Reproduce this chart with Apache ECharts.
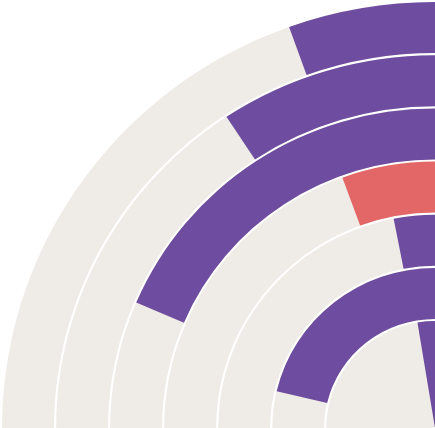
<!DOCTYPE html>
<html>
<head>
<meta charset="utf-8">
<script src="https://cdn.jsdelivr.net/npm/echarts@6/dist/echarts.min.js"></script>
<style>
  html, body { margin: 0; padding: 0; background: #ffffff; overflow: hidden; }
  #main { width: 428px; height: 428px; transform: scaleX(1.0164); transform-origin: 0 0; }
</style>
</head>
<body>
<div id="main"></div>
<script>
// Data (innermost ring first); values are angular extents in degrees of a full 360° scale
const categories = ['A', 'B', 'C', 'D', 'E', 'F', 'G'];
const values = [9.3, 76.7, 11.0, 20.0, 66.9, 33.4, 19.7];
const angleMax = 360;

// Styles
const purple = '#6e4c9f';
const red = '#e36767';
const trackColor = '#efebe7';
const highlighted = 'D';

const chart = echarts.init(document.getElementById('main'), null, { renderer: 'svg' });

function itemData(cats, vals) {
  return vals.map((v, i) => ({
    value: v,
    itemStyle: { color: cats[i] === highlighted ? red : purple }
  }));
}

const innerCats = categories.slice(0, 1);
const innerVals = values.slice(0, 1);
const outerCats = categories.slice(1);
const outerVals = values.slice(1);

const hiddenAxis = {
  axisLine: { show: false }, axisTick: { show: false },
  axisLabel: { show: false }, splitLine: { show: false }
};

chart.setOption({
  animation: false,
  backgroundColor: '#ffffff',
  polar: [
    { center: ['100%', '100%'], radius: [0, 108] },
    { center: ['100%', '100%'], radius: [108, 427] }
  ],
  angleAxis: [
    Object.assign({ polarIndex: 0, type: 'value', min: 0, max: angleMax, startAngle: 90, clockwise: false }, hiddenAxis),
    Object.assign({ polarIndex: 1, type: 'value', min: 0, max: angleMax, startAngle: 90, clockwise: false }, hiddenAxis)
  ],
  radiusAxis: [
    Object.assign({ polarIndex: 0, type: 'category', data: innerCats }, hiddenAxis),
    Object.assign({ polarIndex: 1, type: 'category', data: outerCats }, hiddenAxis)
  ],
  series: [
    {
      type: 'bar', coordinateSystem: 'polar', polarIndex: 0,
      data: itemData(innerCats, innerVals),
      barCategoryGap: '2%',
      showBackground: true, backgroundStyle: { color: trackColor }
    },
    {
      type: 'bar', coordinateSystem: 'polar', polarIndex: 1,
      data: itemData(outerCats, outerVals),
      barCategoryGap: '4%',
      showBackground: true, backgroundStyle: { color: trackColor }
    }
  ]
});
</script>
</body>
</html>
